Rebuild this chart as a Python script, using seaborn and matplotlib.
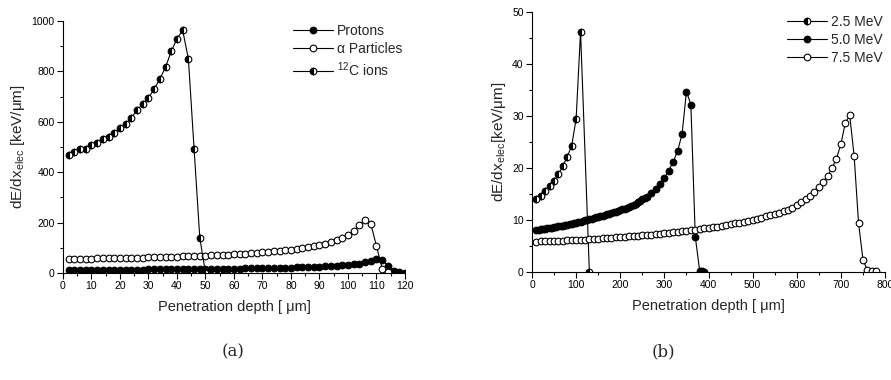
import matplotlib
matplotlib.use("Agg")
import matplotlib.pyplot as plt
import seaborn as sns
from matplotlib.ticker import MultipleLocator

sns.set_theme(style="ticks")
plt.rcParams['font.family'] = ['Liberation Sans', 'DejaVu Sans']

# ---------------- Panel (a) data ----------------
protons_x = list(range(2, 122, 2))
protons_y = [12, 12, 12, 12, 12.5, 12.5, 12.5, 13, 13, 13,
             13, 13.5, 13.5, 13.5, 14, 14, 14, 14.5, 14.5, 15,
             15, 15, 15.5, 15.5, 16, 16, 16.5, 16.5, 17, 17,
             17.5, 18, 18, 18.5, 19, 19.5, 20, 20.5, 21, 21.5,
             22, 23, 23.5, 24, 25, 26, 27, 28, 30, 32,
             34, 37, 42, 48, 55, 53, 28, 8, 3, 1]

alpha_x = list(range(2, 116, 2))
alpha_y = [57, 56, 57, 57, 57, 58, 58, 58, 59, 59,
           60, 60, 61, 61, 62, 62, 63, 64, 64, 65,
           66, 67, 67, 68, 69, 70, 71, 72, 73, 74,
           76, 77, 79, 80, 82, 84, 86, 88, 90, 93,
           96, 99, 102, 106, 111, 117, 123, 131, 140, 152,
           168, 190, 210, 196, 107, 17, 3]

carbon_x = list(range(2, 52, 2))
carbon_y = [467, 482, 493, 493, 510, 515, 530, 540, 555, 575,
            592, 615, 648, 670, 695, 730, 770, 818, 880, 930,
            963, 850, 493, 140, 0]

# ---------------- Panel (b) data ----------------
e25_x = [10, 20, 30, 40, 50, 60, 70, 80, 90, 100, 110, 130]
e25_y = [14.1, 14.7, 15.5, 16.5, 17.5, 18.8, 20.4, 22.2, 24.3, 29.5, 46.2, 0.0]

e50_x = list(range(10, 260, 5)) + [260, 270, 280, 290, 300, 310, 320, 330,
                                   340, 350, 360, 370, 380, 385, 390]
e50_y = [8.10, 8.15, 8.20, 8.27, 8.33, 8.40, 8.47, 8.55, 8.63, 8.70,
         8.78, 8.86, 8.94, 9.02, 9.11, 9.20, 9.29, 9.39, 9.49, 9.59,
         9.69, 9.80, 9.91, 10.02, 10.13, 10.25, 10.37, 10.50, 10.60, 10.70,
         10.80, 10.95, 11.10, 11.20, 11.35, 11.50, 11.60, 11.75, 11.90, 12.05,
         12.20, 12.40, 12.55, 12.75, 12.95, 13.15, 13.40, 13.65, 13.95, 14.15,
         14.4, 15.1, 16.0, 17.0, 18.1, 19.5, 21.2, 23.3,
         26.5, 34.7, 32.2, 6.8, 0.2, 0.1, 0.0]

e75_x = list(range(10, 790, 10))
e75_y = [5.85, 5.88, 5.91, 5.94, 5.97, 6.00, 6.04, 6.08, 6.12, 6.16,
         6.20, 6.25, 6.30, 6.35, 6.40, 6.46, 6.52, 6.58, 6.64, 6.70,
         6.77, 6.84, 6.91, 6.98, 7.05, 7.13, 7.21, 7.29, 7.37, 7.46,
         7.55, 7.64, 7.73, 7.83, 7.93, 8.03, 8.14, 8.25, 8.37, 8.49,
         8.62, 8.75, 8.89, 9.03, 9.18, 9.34, 9.51, 9.68, 9.86, 10.05,
         10.25, 10.46, 10.68, 10.91, 11.16, 11.42, 11.70, 12.00, 12.32, 12.80,
         13.4, 14.0, 14.7, 15.4, 16.3, 17.3, 18.5, 20.0, 21.8, 24.6,
         28.7, 30.1, 22.3, 9.4, 2.4, 0.3, 0.2, 0.1]

fig = plt.figure(figsize=(8.91, 3.80), dpi=100)
axa = fig.add_axes([0.0707, 0.2816, 0.3838, 0.663])
axb = fig.add_axes([0.5971, 0.2842, 0.3962, 0.6842])

MS = 4.8
common = dict(color='black', lw=0.8, marker='o', markersize=MS,
              markeredgecolor='black', markeredgewidth=0.8)

def series(ax, x, y, style, label):
    kw = dict(common)
    if style == 'filled':
        kw.update(markerfacecolor='black')
    elif style == 'open':
        kw.update(markerfacecolor='white')
    else:
        kw.update(markerfacecolor='black', fillstyle='left',
                  markerfacecoloralt='white')
    sns.lineplot(x=x, y=y, ax=ax, label=label, sort=False, **kw)

series(axa, protons_x, protons_y, 'filled', 'Protons')
series(axa, alpha_x, alpha_y, 'open', 'α Particles')
series(axa, carbon_x, carbon_y, 'half', r'$^{\mathregular{12}}$C ions')

series(axb, e25_x, e25_y, 'half', '2.5 MeV')
series(axb, e50_x, e50_y, 'filled', '5.0 MeV')
series(axb, e75_x, e75_y, 'open', '7.5 MeV')

for ax in (axa, axb):
    for s in ('top', 'right'):
        ax.spines[s].set_visible(False)
    for s in ('left', 'bottom'):
        ax.spines[s].set_linewidth(0.8)
        ax.spines[s].set_color('black')
    ax.tick_params(which='major', direction='out', length=4, width=0.8,
                   labelsize=7.5, colors='black', pad=2)
    ax.tick_params(which='minor', direction='out', length=2.5, width=0.8,
                   colors='black')
    ax.set_facecolor('white')
    leg = ax.legend(loc='upper right', frameon=False, fontsize=10,
                    handlelength=2.9, handletextpad=0.25, labelspacing=0.3,
                    borderaxespad=0.0, borderpad=0.2)

axa.set_xlim(0, 120)
axa.set_ylim(0, 1000)
axa.xaxis.set_major_locator(MultipleLocator(10))
axa.xaxis.set_minor_locator(MultipleLocator(5))
axa.yaxis.set_major_locator(MultipleLocator(200))
axa.yaxis.set_minor_locator(MultipleLocator(100))

axb.set_xlim(0, 800)
axb.set_ylim(0, 50)
axb.xaxis.set_major_locator(MultipleLocator(100))
axb.xaxis.set_minor_locator(MultipleLocator(50))
axb.yaxis.set_major_locator(MultipleLocator(10))
axb.yaxis.set_minor_locator(MultipleLocator(5))

axa.set_xlabel('Penetration depth [ μm]', fontsize=10.5, labelpad=6)
axb.set_xlabel('Penetration depth [ μm]', fontsize=10.5, labelpad=6)
axa.set_ylabel(r'dE/dx$_{\mathregular{elec}}$ [keV/μm]', fontsize=11, labelpad=3)
axb.set_ylabel(r'dE/dx$_{\mathregular{elec}}$[keV/μm]', fontsize=11, labelpad=3)

fig.text(0.2615, 0.074, '(a)', ha='center', va='center', fontsize=12,
         family=['DejaVu Serif'])
fig.text(0.7441, 0.074, '(b)', ha='center', va='center', fontsize=12,
         family=['DejaVu Serif'])

fig.savefig('out.png', dpi=100, facecolor='white')
